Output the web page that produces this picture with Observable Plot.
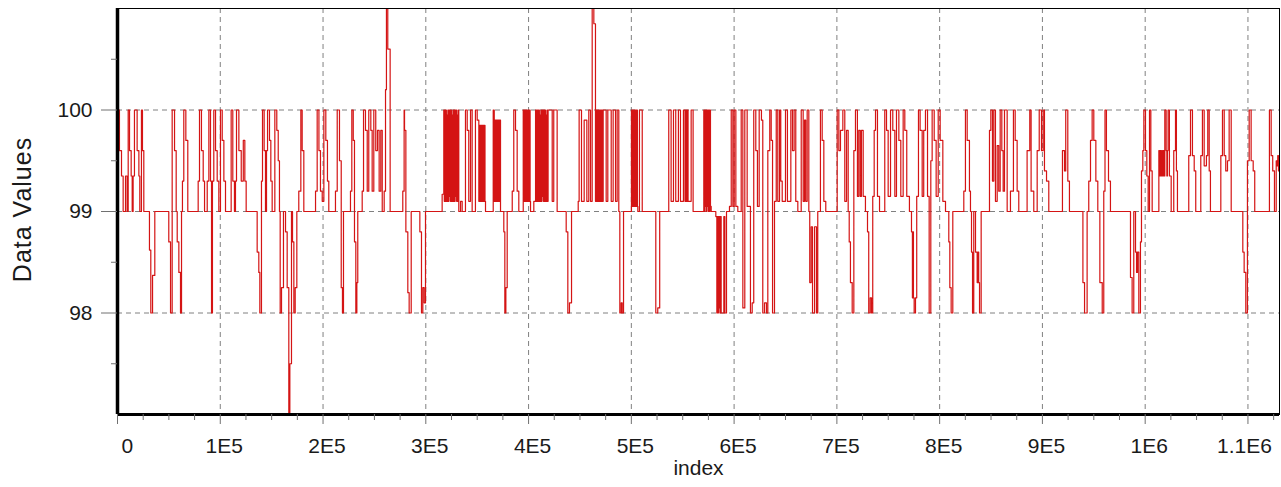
<!DOCTYPE html>
<html>
<head>
<meta charset="utf-8">
<script src="https://cdn.jsdelivr.net/npm/d3@7"></script>
<script src="https://cdn.jsdelivr.net/npm/@observablehq/plot@0.6"></script>
<style>
  html, body { margin: 0; padding: 0; background: #fff; }
  #chart { width: 1281px; height: 487px; }
</style>
</head>
<body>
<div id="chart"></div>
<script>
// ---- Labels and ticks ----
const xLabel = "index";
const yLabel = "Data Values";
const xMajor = [0, 100000, 200000, 300000, 400000, 500000, 600000, 700000, 800000, 900000, 1000000, 1100000];
const xTickLabels = ["0", "1E5", "2E5", "3E5", "4E5", "5E5", "6E5", "7E5", "8E5", "9E5", "1E6", "1.1E6"];
const xMinorStep = 25000;
const yMajor = [98, 99, 100];
const yTickLabels = ["98", "99", "100"];
const yMinor = [97.5, 98.5, 99.5, 100.5];
const xMax = 1130700;
const yDomain = [97, 101];

// ---- Series: step points [index (thousands), value] ----
const seg1 = [
  [0, 99.35], [0.7, 100], [1.9, 99.6], [3.9, 99.35], [5.5, 99], [7.8, 99.35], [9.4, 99],
  [10.4, 100], [11.7, 99.6], [13.3, 99.35], [14.3, 99], [15.2, 99.35], [16.5, 100], [19.1, 99.6],
  [20.8, 99.35], [21.7, 99], [23.3, 100], [24.3, 99.6], [25.6, 99], [31.1, 98.62], [32.4, 98.0],
  [34.1, 98.37], [36.3, 99], [49.9, 98.7], [51.6, 98.0], [53.2, 100], [55.5, 99.6], [57.1, 99],
  [58.1, 98.7], [59.7, 98.4], [61.3, 98.0], [62.3, 99], [63.2, 99.3], [64.5, 100], [66.5, 99.7],
  [68.4, 99], [78.5, 99.3], [79.8, 100], [81.7, 99.6], [83.4, 99.3], [84.7, 99], [87.3, 99.3],
  [88.9, 100], [90.5, 99.3], [91.5, 98.0], [92.4, 99.3], [93.7, 100], [95.4, 99.6], [97.0, 99.3],
  [98.6, 99], [100.2, 100], [101.9, 99.7], [103.5, 99.3], [105.1, 99], [110.6, 100], [112.2, 99.3],
  [113.8, 99], [114.8, 99.3], [115.8, 100], [118.1, 99.6], [120.4, 99.3], [122.4, 99.7],
  [123.9, 99.3], [125.2, 99], [135.9, 98.6]
];
const seg2 = [
  [137.5, 98.4], [138.5, 98.0], [140.1, 99.3], [141.1, 100], [142.7, 99.6], [144.0, 99],
  [145.0, 99.6], [146.0, 100], [147.9, 99.7], [149.2, 99.3], [150.5, 99], [153.1, 100],
  [155.0, 99.8], [156.4, 99.5], [157.6, 99], [158.3, 98.0], [159.6, 98.25], [161.5, 99],
  [163.5, 98.8], [165.1, 98.25], [166.7, 97.0], [167.7, 97.5], [169.3, 99], [170.3, 98.7],
  [171.6, 98.0], [172.9, 98.25], [174.5, 99], [176.4, 99.2], [178.4, 100], [179.7, 99.6],
  [181.3, 99], [192.7, 99.2], [194.3, 100], [196.0, 99.6], [197.5, 99.2], [199.2, 99.1],
  [200.8, 100], [202.7, 99.7], [204.3, 99.3], [205.6, 99], [212.1, 99.2], [213.8, 100],
  [216.0, 99.5], [217.7, 98.25], [218.9, 98.0], [219.9, 99], [226.7, 99.2], [228.0, 100],
  [229.4, 99.7], [230.6, 98.7], [231.9, 98.0], [232.9, 98.3], [233.8, 99], [238.1, 99.2],
  [239.4, 100], [241.3, 99.8], [243.0, 99.2], [244.5, 100], [246.5, 99.8], [247.8, 99.2],
  [249.4, 100], [251.3, 99.6], [253.0, 99.8], [254.6, 99.2], [256.2, 99.8], [257.6, 99],
  [259.5, 99.2], [260.8, 100.2], [261.7, 101], [263.0, 100.6], [265.3, 99], [277.6, 99.2],
  [278.9, 100]
];
const seg3 = [
  [279.3, 99.8], [280.6, 98.8], [282.5, 98.2], [283.8, 98.0], [285.8, 99], [294.2, 98.8],
  [295.8, 98.0], [297.1, 98.25], [298.4, 98.1], [299.7, 99], [315.9, 99.17],
  [317.5, 100], [318.0, 99.1], [318.5, 100], [319.0, 99.1], [319.5, 100], [320.0, 99.1],
  [320.5, 99.95], [321.0, 99.1], [321.5, 100], [322.0, 99.1], [322.5, 100], [323.0, 99.15],
  [323.5, 100], [324.0, 99.1], [324.5, 100], [325.0, 99.1], [325.5, 99.95], [326.0, 99.1],
  [326.5, 100], [327.0, 99.1], [327.5, 100], [328.0, 99.1], [328.5, 100], [329.0, 99.15],
  [329.5, 100], [330.0, 99.1], [330.5, 99.95], [331.0, 99.1], [331.5, 100],
  [332.1, 99], [333.8, 99.1], [335.4, 99], [338.6, 100], [340.3, 99.8], [341.8, 99.1],
  [343.5, 100], [345.1, 99], [348.3, 100], [350.0, 99.9],
  [351.6, 99.1], [352.1, 99.85], [352.6, 99.1], [353.1, 99.85], [353.6, 99.1], [354.1, 99.85],
  [354.6, 99.1], [355.1, 99.85], [355.6, 99.1], [356.1, 99.85], [356.6, 99.1], [357.1, 99.85],
  [357.6, 99.1], [358.1, 99], [365.6, 100],
  [366.6, 99.1], [367.1, 99.9], [367.6, 99.1], [368.1, 99.9], [368.6, 99.1], [369.1, 99.9],
  [369.6, 99.1], [370.1, 99.9], [370.6, 99.1], [371.1, 99.9], [371.6, 99.1], [372.1, 99.9],
  [372.7, 99], [375.9, 98.8], [376.9, 98.0], [377.9, 98.25], [379.2, 99], [384.1, 99.2],
  [385.6, 100], [387.3, 99.8], [388.9, 99.2], [390.5, 99], [394.8, 100],
  [395.5, 99.1], [396.0, 100], [396.5, 99.1], [397.0, 100], [397.5, 99.1], [398.0, 100],
  [398.5, 99.1], [399.0, 100], [399.5, 99.1], [400.0, 100], [400.5, 99.1], [401.0, 100],
  [401.5, 99.1], [401.9, 99], [405.1, 99.1], [406.8, 100],
  [407.5, 99.1], [408.0, 100], [408.5, 99.1], [409.0, 100], [409.5, 99.1], [410.0, 100],
  [410.5, 99.1], [411.0, 99.95], [411.5, 99.1], [412.0, 100], [412.5, 99.1], [413.0, 100],
  [413.5, 99.15], [414.0, 100], [414.5, 99.1], [415.0, 100], [415.5, 99.1], [416.0, 100],
  [416.5, 99.1], [417.0, 99.95], [417.5, 99.1], [418.0, 100], [418.5, 99.1], [419.0, 100]
];
const seg4 = [
  [423.0, 99.1], [424.5, 100], [427.8, 99], [436.6, 98.8], [438.2, 98.0], [439.8, 98.1],
  [441.8, 99], [448.3, 99.1], [449.2, 100], [451.5, 99.1], [454.1, 99.9], [456.7, 99.1],
  [458.6, 100], [460.3, 99.1], [461.9, 101], [463.5, 100.85],
  [465.1, 99.1], [465.6, 100], [466.1, 99.1], [466.6, 100], [467.1, 99.1], [467.6, 100],
  [468.1, 99.1], [468.6, 100], [469.1, 99.1], [469.6, 100], [470.1, 99.1], [470.6, 100],
  [471.1, 99.1], [471.6, 100], [472.1, 99.1], [472.6, 100],
  [475.5, 99.1], [477.1, 100], [480.4, 99.1], [482.3, 100], [484.6, 99.1], [486.2, 100],
  [487.8, 99], [488.8, 98.0], [490.1, 98.1], [491.1, 98.0], [492.4, 99], [500.1, 100],
  [500.9, 99.05], [501.4, 100], [501.9, 99.05], [502.4, 100], [502.9, 99.05], [503.4, 100],
  [503.9, 99.05], [504.4, 100], [504.9, 99.05], [505.4, 100], [505.9, 99.05],
  [506.3, 99], [507.9, 100], [510.6, 99], [523.8, 98.0], [525.7, 98.05], [527.6, 99],
  [536.4, 100], [538.7, 99.1], [541.0, 100], [543.2, 99.1], [545.8, 100], [547.8, 99.1],
  [550.7, 100], [552.2, 99.1], [552.7, 100], [553.2, 99.1], [553.7, 100], [554.2, 99.1],
  [554.7, 100], [555.2, 99.1], [558.2, 100], [560.1, 99]
];
const seg5 = [
  [570.5, 100], [571.0, 99], [571.5, 100], [572.0, 99.05], [572.5, 100], [573.0, 99],
  [573.5, 100], [574.0, 99.05], [574.5, 100], [575.0, 99], [575.5, 100], [576.0, 99],
  [576.5, 100], [577.0, 99.05], [577.7, 99], [582.2, 98.95],
  [583.2, 98.0], [583.7, 98.95], [584.2, 98.0], [584.7, 98.95], [585.2, 98.05], [585.7, 98.95],
  [586.2, 98.0], [586.7, 98.95], [587.4, 98.0], [590.0, 98.95], [591.0, 98.0], [592.6, 99],
  [595.5, 99.05], [597.2, 100], [598.8, 99.05], [600.1, 100], [601.7, 99.05], [603.6, 99],
  [606.9, 100], [608.5, 98.05], [610.4, 100], [612.7, 99.05], [615.9, 98.0], [617.6, 98.1],
  [619.1, 100], [621.1, 99.6], [622.7, 99.05], [624.4, 100], [626.6, 99.9], [627.9, 98.0],
  [629.6, 98.1], [631.5, 98.0], [632.8, 99.6], [634.7, 100], [636.1, 99.7], [637.4, 98.0],
  [639.3, 99.1], [641.0, 100], [642.5, 99.1], [644.2, 100], [645.4, 99.3], [646.8, 99.1],
  [650.0, 100], [651.9, 99.1], [655.2, 100], [656.8, 99.6], [658.4, 100], [660.0, 99.1],
  [662.0, 99], [665.3, 100], [667.2, 99.1], [668.5, 99.9], [669.7, 99.1], [671.1, 100],
  [672.7, 99], [673.6, 98.3], [675.0, 98.85], [676.3, 98.0], [678.3, 98.85], [680.2, 98.0],
  [681.4, 99], [684.0, 100], [685.7, 99.7], [687.3, 99.1], [689.2, 99], [700.3, 100]
];
const seg6 = [
  [701.9, 99.6], [703.5, 99.8], [705.8, 100], [707.7, 99.1], [709.4, 99.8], [711.0, 99],
  [712.0, 98.7], [713.2, 98.3], [714.9, 98.0], [716.5, 99.6], [718.1, 100], [720.0, 99.15],
  [721.3, 99.8], [722.7, 99.15], [723.9, 99.8], [725.6, 99.15], [727.8, 99], [729.8, 98.8],
  [731.0, 98.0], [732.4, 98.15], [733.7, 98.0], [734.9, 99.15], [736.3, 99.8], [737.6, 100],
  [739.5, 99.15], [741.5, 99], [746.6, 100], [748.3, 99.8], [749.9, 99.15], [752.2, 100],
  [754.4, 99.8], [756.4, 99.15], [758.0, 100], [760.3, 99.7], [762.2, 99.15], [764.5, 100],
  [766.1, 99.8], [768.0, 99.15], [770.6, 99], [772.6, 98.8], [773.5, 98.15], [774.0, 98.8],
  [774.5, 98.15], [775.2, 98.0], [776.5, 98.15], [777.7, 99.15], [779.4, 100], [781.0, 99.8],
  [783.0, 99.15], [784.5, 99.8], [786.2, 100], [788.2, 99.15], [789.8, 98.0], [791.4, 99.5],
  [792.7, 100], [794.7, 99.7], [796.6, 99.15], [798.6, 100], [800.5, 99.7], [803.1, 99.1],
  [805.7, 99], [808.9, 98.7], [809.9, 98.25], [811.2, 98.0], [812.8, 99], [823.5, 99.2],
  [825.1, 100], [826.8, 99.7], [829.0, 99.2], [830.0, 99], [831.0, 98.6], [832.0, 98.0],
  [833.2, 99], [834.9, 98.6], [836.5, 98.3], [837.2, 98.6], [838.0, 98.3], [838.8, 98.0],
  [840.4, 99]
];
const seg7 = [
  [848.5, 99.8], [849.8, 100], [851.4, 99.3], [852.7, 100], [854.3, 99.1], [856.0, 99.65],
  [857.5, 99.2], [858.9, 100], [860.5, 99.6], [861.8, 99.2], [863.1, 100], [865.7, 99],
  [868.9, 99.2], [871.8, 100], [873.5, 99.7], [875.4, 99.2], [877.0, 99], [885.1, 99.6],
  [887.7, 100], [889.0, 99.2], [891.6, 99], [894.9, 99.6], [896.9, 100], [899.1, 99.6],
  [900.7, 100], [902.0, 99.4], [904.0, 99.3], [906.2, 99], [919.5, 99.6], [921.5, 99.4],
  [922.7, 100], [924.7, 99.3], [926.3, 99], [939.4, 98.3], [941.0, 98.0], [943.5, 99],
  [945.1, 99.3], [946.8, 99.7], [948.4, 100], [950.0, 99.7], [952.0, 99.3], [953.9, 99],
  [955.9, 98.3], [958.2, 98.0], [959.7, 99.2], [960.9, 100], [962.3, 99.6], [964.3, 99.3],
  [966.2, 99]
];
const seg8 = [
  [985.7, 98.35], [987.3, 98.0], [988.9, 99], [990.6, 98.6], [991.6, 98.4], [992.5, 98.6],
  [993.8, 98.0], [995.4, 98.7], [996.4, 99.4], [997.7, 99.6], [998.7, 100], [1000.3, 99.6],
  [1001.6, 99.35], [1002.9, 99], [1004.2, 100], [1005.5, 99.4], [1006.8, 99], [1013.3, 99.6],
  [1014.0, 99.35], [1014.7, 99.6], [1015.4, 99.35], [1016.1, 99.6], [1016.8, 99.35],
  [1017.5, 99.6], [1018.2, 99.35], [1019.1, 100], [1020.4, 99.6], [1021.1, 99.35],
  [1021.7, 99.6], [1022.3, 100], [1023.6, 99.35], [1025.3, 99], [1027.8, 99.6], [1029.5, 100],
  [1030.4, 99.4], [1031.4, 99], [1042.4, 99.55], [1044.1, 100], [1046.0, 99.55], [1047.7, 99.4],
  [1049.2, 99], [1054.1, 99.55], [1055.7, 100], [1057.4, 99.45], [1059.6, 99.55], [1060.9, 100],
  [1062.3, 99.4], [1063.5, 99], [1073.6, 99.55], [1075.2, 100], [1076.9, 99.55], [1078.4, 99.4],
  [1080.1, 99.5], [1081.7, 100], [1083.7, 99], [1095.0, 98.6], [1096.3, 98.4], [1097.9, 98.0],
  [1099.5, 99.5], [1101.2, 100], [1103.1, 99.5], [1105.1, 99.4], [1106.6, 99], [1120.9, 100],
  [1122.6, 99.55], [1124.1, 99.4], [1125.8, 99], [1127.5, 99.5], [1128.3, 99.45],
  [1129.0, 99.55], [1129.7, 99.4], [1130.5, 99.5], [1130.7, 99.5]
];

const series = [].concat(seg1, seg2, seg3, seg4, seg5, seg6, seg7, seg8)
  .map(([k, v]) => ({index: k * 1000, value: v}));

const xMinor = d3.range(0, xMax, xMinorStep).filter(d => !xMajor.includes(d));
const xFmt = d => xTickLabels[xMajor.indexOf(d)];
const yFmt = d => yTickLabels[yMajor.indexOf(d)];

const FONT = "'Liberation Sans', Arial, Helvetica, sans-serif";
const gridStyle = {stroke: "#808080", strokeOpacity: 1, strokeWidth: 1, strokeDasharray: "5,4"};
const tickColor = "#707070";

const chart = Plot.plot({
  width: 1281,
  height: 487,
  marginLeft: 117,
  marginRight: 2,
  marginTop: 8,
  marginBottom: 73,
  x: {domain: [0, xMax]},
  y: {domain: yDomain},
  style: {fontFamily: FONT, background: "#fff", color: "#1a1a1a", overflow: "visible"},
  marks: [
    Plot.gridX(xMajor.slice(1), gridStyle),
    Plot.gridY(yMajor, gridStyle),
    Plot.line(series, {x: "index", y: "value", curve: "step-after", stroke: "#d41414", strokeWidth: 1.2}),
    Plot.frame({stroke: "#000", strokeWidth: 1}),
    Plot.ruleX([0], {stroke: "#000", strokeWidth: 3.5}),
    Plot.ruleY([yDomain[0]], {stroke: "#000", strokeWidth: 3}),
    // x ticks
    Plot.axisX(xMinor, {tickSize: 6, text: null, stroke: tickColor, label: null}),
    Plot.axisX(xMajor, {tickSize: 10, text: null, stroke: tickColor, label: null}),
    Plot.axisX(xMajor.slice(1, -1), {tickSize: 0, tickPadding: 24, tickFormat: xFmt, fontSize: 21, dx: 4, label: null, fill: "#1a1a1a"}),
    Plot.axisX([xMajor[0]], {tickSize: 0, tickPadding: 24, tickFormat: xFmt, fontSize: 21, dx: 4, textAnchor: "start", label: null, fill: "#1a1a1a"}),
    Plot.axisX([xMajor[xMajor.length - 1]], {tickSize: 0, tickPadding: 24, tickFormat: xFmt, fontSize: 21, dx: 24, textAnchor: "end", label: null, fill: "#1a1a1a"}),
    // y ticks
    Plot.axisY(yMinor, {tickSize: 6, text: null, stroke: tickColor, label: null}),
    Plot.axisY(yMajor, {tickSize: 16, tickPadding: 9, tickFormat: yFmt, fontSize: 21, stroke: tickColor, label: null, fill: "#1a1a1a"}),
    // axis titles
    Plot.text([xLabel], {frameAnchor: "bottom", dy: 54, lineAnchor: "middle", textAnchor: "middle", fontSize: 21, fill: "#1a1a1a"}),
    Plot.text([yLabel], {frameAnchor: "left", dx: -95, dy: -2, rotate: -90, lineAnchor: "middle", textAnchor: "middle", fontSize: 25, fill: "#1a1a1a"})
  ]
});

chart.querySelectorAll("text").forEach(t => {
  if (t.textContent === yLabel) t.style.letterSpacing = "1px";
});
document.getElementById("chart").appendChild(chart);
</script>
</body>
</html>
